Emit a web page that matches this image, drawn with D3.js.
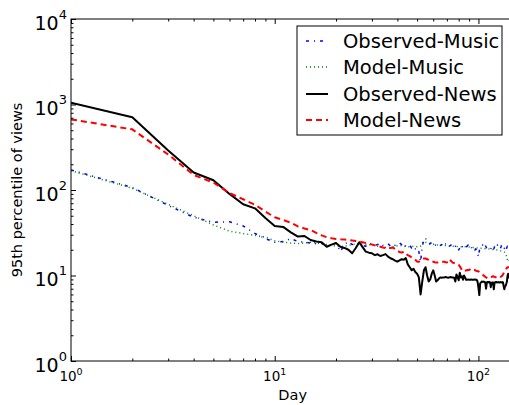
<!DOCTYPE html>
<html><head><meta charset="utf-8">
<script src="https://cdn.jsdelivr.net/npm/d3@7"></script>
<style>body{margin:0;background:#fff} svg{display:block} text{font-family:"DejaVu Sans",sans-serif}</style>
</head><body><svg id="c" width="509" height="405"></svg>
<script>
// Day index 1..145
const days = d3.range(1, 146);
const seriesNames = ["Observed-Music", "Model-Music", "Observed-News", "Model-News"];
const xMajorTicks = [1, 10, 100];
const yMajorTicks = [1, 10, 100, 1000, 10000];
const xLabel = "Day";
const yLabel = "95th percentile of views";

const observedMusic = [
172,107,66,48,42,42.5,38,31,27,24.5,
25,27,25,24.5,24,23.5,23.7,22,22.5,24,
19,23,25,23,23.5,23,22.5,22,24,23,
22.5,23,24,22.5,23,23.5,22,23,22.5,23.5,
24,23,24,22,21.5,22.5,21,22,20.5,21,
19,14.5,22,26,27.5,25,24,23.5,24.5,23.7,
22.5,23,23.5,22.5,22.5,23,22,21.8,23.5,24,
22.5,22,22.5,23,22,21.5,22,20.5,21,19.9,
21,22.5,21.5,22,22.7,21.5,21.7,22,22.7,21.5,
22,21.5,20.8,21.5,20.5,19.9,20.5,19.5,18.5,16.6,
19.5,20.5,21.7,22,22.7,22,21.5,22.7,21.5,21,
20.8,20.2,20,19.9,20.5,21.7,22,21.5,20.5,21.7,
22.5,22,21.5,22.7,22,21.5,20.8,20.5,21.5,22.7,
21.5,20.8,20.5,20.8,19.9,20.5,19.9,21.5,22,21.7,
21.5,22,21,22.5,21.7];

const modelMusic = [
168,105,68,50,39,33,31,29.5,28,25.5,
24.5,24,23.7,24,24.5,24,23.7,23,22.5,22,
21.8,22,22.5,23,23.3,23.7,23.5,23.2,23,22.7,
22.5,22,21.7,21.5,21.3,21,20.8,21.5,22,22.3,
22.5,22.3,22,21.8,21.7,21.7,21.8,22,21.9,21.7,
21.7,22,24,25,24.5,24,23.5,23,23,23.2,
22.9,22.8,22.7,22.7,22.6,22.6,22.5,22.5,22.4,22.4,
22.3,22.2,22.2,22.1,22,22,21.9,21.9,21.8,21.8,
21.8,21.7,21.7,21.7,21.7,21.7,21.6,21.6,21.6,21.5,
21.5,21.4,21.4,21.3,21.3,21.2,21.1,21,21,20.9,
20.9,20.8,20.8,20.8,20.7,20.7,20.6,20.6,20.5,20.5,
20.5,20.4,20.4,20.3,20.3,20.2,20.2,20.1,20.1,20,
20,19.9,19.9,19.8,19.8,19.7,19.6,19.5,19.4,19.3,
19.2,19.1,19,18.8,18.5,18,17,16,15,14.5,
14.5,15,15.5,16,16];

const observedNews = [
1050,710,290,160,130,90,68,61,47,38,
37,32,28.5,29,26,25,24.5,21.7,23,24,
21.7,21,20,18.2,21,24.5,21.5,19,18.5,18.2,
17.3,17.7,16.9,17.3,17.8,16.6,15.9,15.5,14.9,14.5,
15,15.5,15.3,16,13.5,12.5,11.5,12,11,10.5,
9.5,6,8.5,11.5,12.5,10,8.5,9,10.5,11.5,
10,8.5,8.8,9.2,9.5,9.4,9.5,9.5,9.6,9.5,
9.4,9.5,9.6,9.5,9.5,9.4,8.5,10.3,9.5,8.8,
10.8,9.5,9.8,8.9,10,9.5,8.9,8.9,9,8.9,
8.9,9,8.9,8.9,8.9,9,8.9,8.9,8.5,7.2,
5.9,8.1,8.3,8.5,8.4,8.5,8.4,8.3,7,8.3,
8.4,8.3,8.4,8.3,7.3,8.2,8.3,8.3,6.9,8.3,
8.3,8.4,8.3,8.3,8.4,8.3,8.3,8.4,8.3,8.3,
8.4,8.3,7.5,6.9,7.5,7.6,8,8.5,10,10.5,
9.5,10,9.5,9.8,9.5];

const modelNews = [
670,512,260,150,122,92,78,67,56,48,
44.5,41.5,37.5,35.5,34,31.5,29.5,28,27.2,26.8,
26.5,26.3,26,25.7,25.3,25,24.5,24,23.7,23,
22.5,22,21.7,21.3,21,20.8,21,21.2,20.5,19.5,
18.8,18.5,19,18,17.3,16.8,16.3,16,15.3,14.5,
14.5,15,15.5,15.8,15.8,15.5,15.2,14.8,14.6,14.5,
14.3,14.2,14.2,14.3,14.3,14.5,14.5,14.5,14.3,14.2,
14.5,15.5,15,14.5,14.1,14,13.9,13.8,13.5,13.3,
12.8,12.2,11.6,11.3,11.2,11.3,11.5,11.5,11.6,11.6,
11.8,12,12.1,11.9,11.7,11.6,11.4,11.3,11.2,11.2,
11,10.8,10.6,10.4,10.2,10,9.8,9.7,9.5,9.4,
9.3,9.3,9.4,9.5,9.5,9.6,9.7,9.8,9.7,9.7,
9.6,9.5,9.4,9.3,9.3,9.4,9.5,9.6,9.7,9.8,
10,10.3,10.6,11,11.3,11.6,12,12.3,12.5,12.5,
12.5,12.5,12.5,12.5,12.5];

const seriesValues = [observedMusic, modelMusic, observedNews, modelNews];
const seriesColors = ["#0000ff", "#008000", "#000000", "#ff0000"];
const seriesDash = ["3,5,1,5", "1,3", null, "6,4"];
const seriesWidth = [1.5, 1.5, 2, 2];

const svg = d3.select("#c");
const L = 71, R = 514.3, T = 19, B = 361;
const x = d3.scaleLog().domain([1, 150]).range([L, R]);
const y = d3.scaleLog().domain([1, 1e4]).range([B, T]);

svg.append("rect").attr("width", 509).attr("height", 405).attr("fill", "#fff");
svg.append("clipPath").attr("id", "clip").append("rect")
  .attr("x", L).attr("y", T).attr("width", R - L).attr("height", B - T);

// lines
const line = d3.line().x((d, i) => x(days[i])).y(d => y(d));
const g = svg.append("g").attr("clip-path", "url(#clip)");
seriesValues.forEach((vals, k) => {
  g.append("path").datum(vals).attr("d", line)
    .attr("fill", "none").attr("stroke", seriesColors[k])
    .attr("stroke-width", seriesWidth[k])
    .attr("stroke-dasharray", seriesDash[k])
    .attr("stroke-linejoin", "round");
});

// minor ticks
const xMinor = [];
[1, 10].forEach(b => { for (let k = 2; k <= 9; k++) xMinor.push(k * b); });
const yMinor = [];
[1, 10, 100, 1000].forEach(b => { for (let k = 2; k <= 9; k++) yMinor.push(k * b); });

function axisG(axis, tx, ty) {
  const a = svg.append("g").attr("transform", `translate(${tx},${ty})`).call(axis);
  a.select(".domain").remove();
  a.selectAll("line").attr("stroke", "#000").attr("stroke-width", 1);
  a.selectAll("text").remove();
  return a;
}
axisG(d3.axisBottom(x).tickValues(xMajorTicks).tickSize(-5).tickFormat(""), 0, B);
axisG(d3.axisBottom(x).tickValues(xMinor).tickSize(-2.5).tickFormat(""), 0, B);
axisG(d3.axisTop(x).tickValues(xMajorTicks).tickSize(-5).tickFormat(""), 0, T);
axisG(d3.axisTop(x).tickValues(xMinor).tickSize(-2.5).tickFormat(""), 0, T);
axisG(d3.axisLeft(y).tickValues(yMajorTicks).tickSize(-5).tickFormat(""), L, 0);
axisG(d3.axisLeft(y).tickValues(yMinor).tickSize(-2.5).tickFormat(""), L, 0);

// spines
svg.append("rect").attr("x", L).attr("y", T).attr("width", R - L).attr("height", B - T)
  .attr("fill", "none").attr("stroke", "#000").attr("stroke-width", 1);

// tick labels
const exp = v => Math.round(Math.log10(v));
xMajorTicks.forEach(v => {
  const t = svg.append("text").attr("x", x(v)).attr("y", B + 20).attr("text-anchor", "middle")
    .attr("font-size", 13.5);
  t.append("tspan").text("10");
  t.append("tspan").attr("font-size", 9.5).attr("dy", -6).text(exp(v));
});
yMajorTicks.forEach(v => {
  const t = svg.append("text").attr("x", L - 4).attr("y", y(v) + 10.5).attr("text-anchor", "end")
    .attr("font-size", 19);
  t.append("tspan").text("10");
  t.append("tspan").attr("font-size", 13).attr("dy", -11).text(exp(v));
});

// axis labels
svg.append("text").attr("x", (L + R) / 2).attr("y", 400).attr("text-anchor", "middle")
  .attr("font-size", 14.5).text(xLabel);
svg.append("text").attr("transform", `translate(22,${(T + B) / 2}) rotate(-90)`)
  .attr("text-anchor", "middle").attr("font-size", 14.5).text(yLabel);

// legend
const lg = svg.append("g");
lg.append("rect").attr("x", 297).attr("y", 26).attr("width", 205).attr("height", 109)
  .attr("fill", "#fff").attr("stroke", "#000").attr("stroke-width", 1);
const rowY = [41, 67, 94, 120];
seriesNames.forEach((name, k) => {
  lg.append("line").attr("x1", 306).attr("x2", 328).attr("y1", rowY[k]).attr("y2", rowY[k])
    .attr("stroke", seriesColors[k]).attr("stroke-width", seriesWidth[k])
    .attr("stroke-dasharray", seriesDash[k]);
  lg.append("text").attr("x", 343).attr("y", rowY[k] + 7).attr("font-size", 19.5).text(name);
});
</script></body></html>
